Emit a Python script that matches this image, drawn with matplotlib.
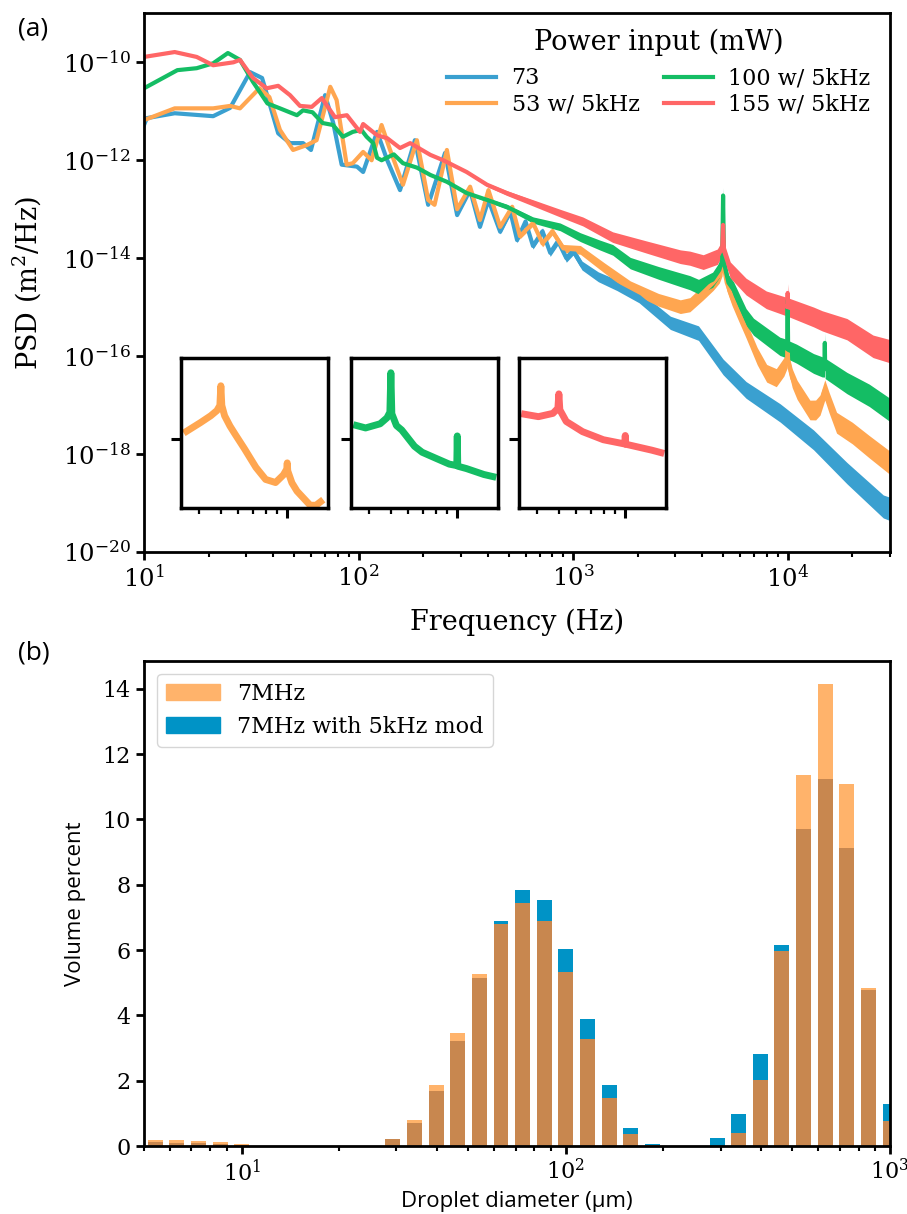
import matplotlib
matplotlib.use("Agg")
import matplotlib.pyplot as plt
import numpy as np
from matplotlib.patches import Patch
from matplotlib.ticker import NullLocator, NullFormatter, LogLocator

plt.rcParams['font.family'] = ['DejaVu Serif']
plt.rcParams['mathtext.fontset'] = 'dejavuserif'

# ---- panel (a): PSD, log10 values ----
f73 = [10, 10.3, 13.9, 21.0, 25.2, 31.2, 35.5, 42.2, 47.9, 55.1,
       60.0, 69.8, 76.2, 83.4, 98.3, 105, 122, 136, 156, 183,
       211, 253, 288, 331, 368, 403, 457, 510, 548, 600,
       650, 720, 782, 850, 930, 1000, 1100, 1310, 1600, 2030,
       2840, 3840, 5000, 6400, 9230, 13200, 18900, 27900, 30000]
l73 = [-11.28, -11.14, -11.04, -11.10, -10.93, -10.20, -10.32, -11.45, -11.65, -11.65,
       -11.79, -10.67, -11.24, -12.09, -12.13, -12.24, -11.42, -12.00, -12.61, -11.59,
       -12.91, -11.85, -13.12, -12.61, -13.36, -12.81, -13.46, -13.05, -13.63, -13.25,
       -13.75, -13.45, -13.89, -13.65, -14.00, -13.85, -14.15, -14.38, -14.55, -14.79,
       -15.32, -15.53, -16.22, -16.69, -17.16, -17.71, -18.39, -19.07, -19.12]

f53 = [10, 13.9, 21.0, 25.2, 28.0, 34.5, 38.4, 43.0, 49.5, 57.4,
       63.7, 73.8, 79.0, 88.0, 94.0, 105, 115, 128, 140, 161,
       187, 211, 226, 258, 288, 331, 368, 403, 457, 520,
       565, 650, 720, 800, 900, 1080, 1400, 1846, 2500, 3160,
       3500, 4040, 4500, 4800, 4950, 5000, 5050, 5200, 5500, 5820,
       6400, 7210, 7980, 8850, 9600, 9950, 10000, 10050, 10500, 11070,
       12700, 13500, 14150, 14900, 15600, 16900, 20000, 24000, 30000]
l53 = [-11.18, -10.94, -10.94, -10.89, -10.94, -10.53, -10.71, -11.38, -11.79, -11.69,
       -11.59, -10.50, -10.77, -12.09, -12.06, -11.83, -12.00, -11.28, -11.78, -12.50,
       -11.59, -12.81, -12.91, -11.79, -13.00, -12.54, -13.22, -12.61, -13.36, -12.95,
       -13.55, -13.28, -13.70, -13.45, -13.80, -13.83, -14.20, -14.58, -14.85, -14.99,
       -14.95, -14.70, -14.50, -14.35, -14.20, -13.63, -14.20, -14.50, -14.80, -15.05,
       -15.46, -16.00, -16.35, -16.44, -16.22, -16.05, -15.87, -16.10, -16.45, -16.69,
       -17.10, -17.10, -17.00, -16.69, -16.95, -17.36, -17.57, -17.85, -18.18]

f100 = [10, 14.3, 17.6, 21.0, 24.6, 28.0, 32.2, 37.6, 43.0, 51.6,
        55.1, 61.0, 68.0, 76.0, 84.5, 94.0, 103, 109, 117, 122,
        128, 146, 161, 187, 216, 258, 319, 397, 491, 650,
        870, 1080, 1330, 1530, 1846, 2500, 3160, 3500, 3840, 4470,
        4800, 4950, 5000, 5050, 5300, 5600, 6400, 6930, 7980, 9200,
        9950, 10000, 10050, 11000, 13200, 14500, 14850, 14900, 14950, 18900,
        24000, 30000]
l100 = [-10.53, -10.16, -10.12, -10.02, -9.81, -9.95, -10.40, -10.84, -10.94, -11.08,
        -10.98, -11.02, -11.24, -11.28, -11.52, -11.42, -11.38, -11.52, -11.65, -11.95,
        -12.00, -11.88, -12.06, -12.15, -12.30, -12.44, -12.67, -12.81, -12.95, -13.22,
        -13.36, -13.57, -13.73, -13.83, -14.10, -14.30, -14.44, -14.50, -14.58, -14.44,
        -14.24, -14.05, -12.72, -14.10, -14.50, -14.65, -15.20, -15.40, -15.60, -15.80,
        -15.85, -14.85, -15.87, -15.95, -16.15, -16.22, -16.22, -15.73, -16.25, -16.55,
        -16.80, -17.10]

f155 = [10, 13.9, 17.6, 21.0, 26.1, 28.0, 32.2, 37.3, 42.2, 47.9,
        53.3, 60.5, 67.4, 77.6, 88.2, 101.5, 105, 122, 136, 156,
        174, 216, 248, 319, 397, 491, 650, 870, 1110, 1530,
        2190, 3160, 3500, 4040, 4700, 4950, 5000, 5050, 5400, 6400,
        7950, 9900, 9950, 10000, 10050, 13200, 14500, 18900, 25000, 30000]
l155 = [-9.89, -9.79, -9.89, -10.06, -10.00, -9.95, -10.32, -10.53, -10.48, -10.67,
        -10.89, -10.91, -10.73, -11.12, -11.08, -11.42, -11.26, -11.49, -11.55, -11.75,
        -11.65, -11.89, -12.00, -12.24, -12.50, -12.67, -12.87, -13.08, -13.25, -13.57,
        -13.77, -13.97, -14.00, -14.08, -13.97, -13.80, -13.32, -13.85, -14.24, -14.58,
        -14.85, -14.99, -14.99, -14.71, -15.00, -15.20, -15.28, -15.45, -15.80, -15.90]

labels_a = ['73', '53 w/ 5kHz', '100 w/ 5kHz', '155 w/ 5kHz']
colors_a = ['#3aa0d0', '#ffa650', '#14bd64', '#ff6666']

# ---- panel (b): droplet size distribution ----
diam = [5.41, 6.31, 7.36, 8.58, 10.0, 11.66, 13.59, 15.85, 18.48, 21.54,
        25.12, 29.29, 34.15, 39.81, 46.42, 54.12, 63.10, 73.56, 85.77, 100.0,
        116.6, 135.9, 158.5, 184.8, 215.4, 251.2, 292.9, 341.5, 398.1, 464.2,
        541.2, 631.0, 735.6, 857.7, 1000.0]
vol_7mhz = [0.17, 0.17, 0.15, 0.12, 0.05, 0, 0, 0, 0, 0,
            0, 0.23, 0.80, 1.88, 3.46, 5.28, 6.80, 7.44, 6.89, 5.33,
            3.27, 1.46, 0.37, 0.03, 0, 0, 0, 0.39, 2.02, 5.97,
            11.36, 14.16, 11.10, 4.83, 0.76]
vol_mod = [0.11, 0.10, 0.08, 0.05, 0.03, 0, 0, 0, 0, 0,
           0, 0.20, 0.70, 1.68, 3.21, 5.14, 6.89, 7.83, 7.54, 6.02,
           3.90, 1.88, 0.55, 0.07, 0, 0, 0.26, 0.97, 2.81, 6.15,
           9.72, 11.25, 9.13, 4.78, 1.28]

c_or = '#ffb36b'
c_bl = '#0093c6'
c_ov = '#c8874f'

fig = plt.figure(figsize=(9.07, 12.14), dpi=100)
ax1 = fig.add_axes([0.1588, 0.5453, 0.8225, 0.4437])
ax2 = fig.add_axes([0.1588, 0.0560, 0.8225, 0.3999])

series = [(f73, l73), (f53, l53), (f100, l100), (f155, l155)]
for (f, l), c, lab in zip(series, colors_a, labels_a):
    f = np.array(f, dtype=float)
    p = 10.0 ** np.array(l)
    # noise band that widens with frequency
    w = np.interp(np.log10(f), [2.3, 2.7, 3.2, 3.7, 4.5], [0, 0.05, 0.11, 0.16, 0.24])
    ax1.fill_between(f, p / 10 ** w, p * 10 ** w, color=c, lw=0)
    ax1.plot(f, p, color=c, lw=3, label=lab)

ax1.set_xscale('log')
ax1.set_yscale('log')
ax1.set_xlim(10, 3e4)
ax1.set_ylim(1e-20, 1e-9)
ax1.set_yticks([1e-20, 1e-18, 1e-16, 1e-14, 1e-12, 1e-10])
ax1.yaxis.set_minor_locator(NullLocator())
ax1.set_xlabel('Frequency (Hz)', fontsize=19.5, labelpad=12)
ax1.set_ylabel('PSD (m$^2$/Hz)', fontsize=19.5, labelpad=14)
leg = ax1.legend(ncol=2, frameon=False, loc='upper right', bbox_to_anchor=(0.992, 0.996),
                 title='Power input (mW)', title_fontsize=19.5, fontsize=16,
                 handlelength=2.2, handletextpad=0.7, columnspacing=1.1,
                 labelspacing=0.2, borderaxespad=0.2)
leg._legend_box.sep = 8

# insets around the 5 kHz modulation
inset_pos = [0.0496, 0.2775, 0.5027]
inset_ylim = [(-17.18, -12.83), (-17.28, -12.23), (-17.13, -12.13)]
inset_tick = [-15.18, -14.96, -14.83]
for (f, l), c, x0, yl, yt in zip(series[1:], colors_a[1:], inset_pos, inset_ylim, inset_tick):
    f = np.array(f, dtype=float)
    p = 10.0 ** np.array(l)
    m = (f >= 3400) & (f <= 14600)
    ins = ax1.inset_axes([x0, 0.0817, 0.197, 0.278])
    ins.plot(f[m], p[m], color=c, lw=5)
    ins.set_xscale('log')
    ins.set_yscale('log')
    ins.set_xlim(3300, 15300)
    ins.set_ylim(10 ** yl[0], 10 ** yl[1])
    ins.set_yticks([10 ** yt])
    ins.yaxis.set_minor_locator(NullLocator())
    ins.xaxis.set_major_locator(LogLocator(base=10))
    ins.xaxis.set_minor_locator(LogLocator(base=10, subs=np.arange(2, 10)))
    ins.xaxis.set_major_formatter(NullFormatter())
    ins.xaxis.set_minor_formatter(NullFormatter())
    ins.yaxis.set_major_formatter(NullFormatter())
    ins.tick_params(which='major', length=7, width=2.2)
    ins.tick_params(which='minor', length=4, width=1.6)
    for s in ins.spines.values():
        s.set_linewidth(2.5)

# panel (b) bars, drawn on log axis with constant width in log space
d = np.array(diam)
half = 10 ** 0.0231
left = d / half
width = d * half - left
a7 = np.array(vol_7mhz)
am = np.array(vol_mod)
ax2.bar(left, am, width, align='edge', color=c_bl, lw=0)
ax2.bar(left, a7, width, align='edge', color=c_or, lw=0)
ax2.bar(left, np.minimum(a7, am), width, align='edge', color=c_ov, lw=0)
ax2.set_xscale('log')
ax2.set_xlim(5, 1000)
ax2.set_yticks([0, 2, 4, 6, 8, 10, 12, 14])
ax2.set_xlabel('Droplet diameter (μm)', fontsize=16, family='Open Sans', labelpad=4)
ax2.set_ylabel('Volume percent', fontsize=16, family='Open Sans', labelpad=12)
ax2.legend(handles=[Patch(color=c_or, label='7MHz'),
                    Patch(color=c_bl, label='7MHz with 5kHz mod')],
           loc='upper left', fontsize=16, handlelength=2.4, borderaxespad=0.6)

ax1.tick_params(which='major', direction='out', length=6, width=2, labelsize=17.5)
ax2.tick_params(which='major', direction='out', length=6, width=2, labelsize=16)
for ax in (ax1, ax2):
    ax.tick_params(which='minor', direction='out', length=3.5, width=1.5)
    for s in ax.spines.values():
        s.set_linewidth(2)

fig.text(0.02, 0.986, '(a)', fontsize=19, family='Open Sans', va='top')
fig.text(0.02, 0.472, '(b)', fontsize=19, family='Open Sans', va='top')

fig.savefig('out.png', dpi=100)
